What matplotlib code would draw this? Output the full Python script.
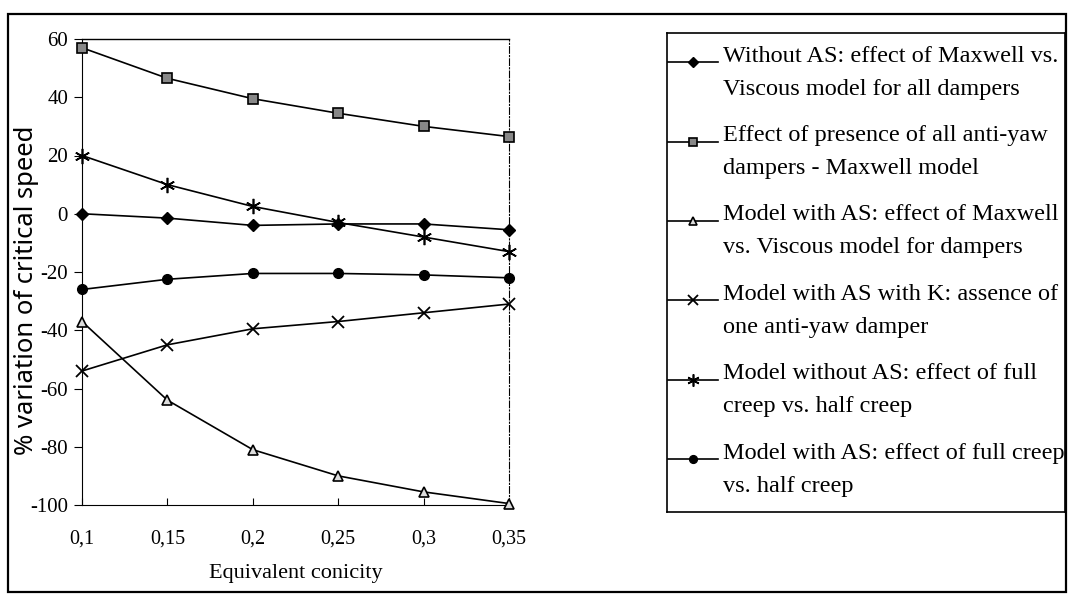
import matplotlib.pyplot as plt
from matplotlib.lines import Line2D
from matplotlib.patches import Rectangle

# dati
conicity = [0.1, 0.15, 0.2, 0.25, 0.3, 0.35]
xtick_labels = ["0,1", "0,15", "0,2", "0,25", "0,3", "0,35"]
yticks = [-100, -80, -60, -40, -20, 0, 20, 40, 60]

without_as_maxwell = [0, -1.5, -4, -3.5, -3.5, -5.5]
presence_all_dampers = [57, 46.5, 39.5, 34.5, 30, 26.5]
with_as_maxwell = [-37, -64, -81, -90, -95.5, -99.5]
with_as_k_one_damper = [-54, -45, -39.5, -37, -34, -31]
without_as_creep = [20, 10, 2.5, -3, -8, -13]
with_as_creep = [-26, -22.5, -20.5, -20.5, -21, -22]

series = [without_as_maxwell, presence_all_dampers, with_as_maxwell,
          with_as_k_one_damper, without_as_creep, with_as_creep]
labels = ["Without AS: effect of Maxwell vs.\nViscous model for all dampers",
          "Effect of presence of all anti-yaw\ndampers - Maxwell model",
          "Model with AS: effect of Maxwell\nvs. Viscous model for dampers",
          "Model with AS with K: assence of\none anti-yaw damper",
          "Model without AS: effect of full\ncreep vs. half creep",
          "Model with AS: effect of full creep\nvs. half creep"]
# stili dei marker
styles = [dict(marker="D", ms=6.5, mfc="black", mec="black"),
          dict(marker="s", ms=7, mfc="#888888", mec="black", mew=1.2),
          dict(marker="^", ms=7.5, mfc="#dddddd", mec="black", mew=1.2),
          dict(marker="x", ms=9, mec="black", mew=1.3),
          dict(marker=(6, 2, 0), ms=11, mec="black", mew=1.2),
          dict(marker="o", ms=7, mfc="black", mec="black")]

serif = "Liberation Serif"

fig = plt.figure(figsize=(10.69, 6.01), dpi=100)
fig.patches.append(Rectangle((8 / 1069, 1 - 592 / 601), 1058 / 1069, 578 / 601,
                             transform=fig.transFigure, fill=False, lw=1.6, ec="black"))

ax = fig.add_axes([82 / 1069, 1 - 505 / 601, 427 / 1069, 466 / 601])
for y, lab, st in zip(series, labels, styles):
    ax.plot(conicity, y, color="black", lw=1.2, label=lab, clip_on=False, zorder=3, **st)

ax.set_xlim(0.1, 0.35)
ax.set_ylim(-100, 60)
ax.set_xticks(conicity)
ax.set_xticklabels(xtick_labels, fontfamily=serif, fontsize=14.5)
ax.set_yticks(yticks)
ax.set_yticklabels([str(v) for v in yticks], fontfamily=serif, fontsize=15)
ax.tick_params(axis="x", direction="in", length=5, pad=18)
ax.tick_params(axis="y", direction="out", length=6, pad=4)
ax.spines["right"].set_linestyle((0, (6, 2, 1, 2)))
ax.spines["right"].set_linewidth(0.8)
ax.spines["top"].set_linewidth(1.0)
ax.set_xlabel("Equivalent conicity", fontfamily=serif, fontsize=16, labelpad=11)
ax.set_ylabel("% variation of critical speed", fontfamily="Noto Sans", fontsize=18.5)
ax.yaxis.set_label_coords(-0.1, 0.46)

# legenda fatta a mano: marker allineato alla prima riga
lax = fig.add_axes([667 / 1069, 1 - 512 / 601, 398 / 1069, 479 / 601])
lax.set_xlim(0, 1)
lax.set_ylim(0, 1)
lax.set_xticks([])
lax.set_yticks([])
for s in lax.spines.values():
    s.set_linewidth(1.2)
for i, (lab, st) in enumerate(zip(labels, styles)):
    yy = 0.9175 - i * 0.1658
    lax.add_line(Line2D([0.003, 0.128], [yy + 0.0215] * 2, color="black", lw=1.2))
    lax.add_line(Line2D([0.065], [yy + 0.0215], color="black", **dict(st, ms=st["ms"] * 0.8)))
    lax.text(0.14, yy, lab, fontfamily=serif, fontsize=17.5, va="center",
             ha="left", linespacing=1.75)

fig.savefig("out.png", dpi=100)
